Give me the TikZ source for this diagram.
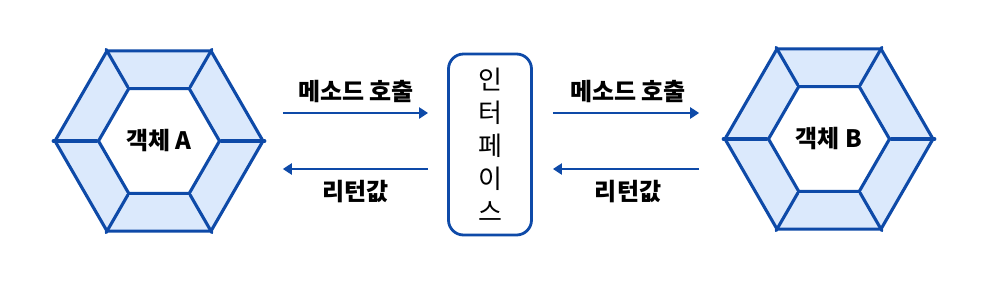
\documentclass[tikz,border=0pt]{standalone}
\usepackage{fontspec}
\setmainfont{Noto Sans CJK KR}
\usepackage{tikz}
\usetikzlibrary{arrows.meta,shapes.geometric,positioning}
\definecolor{objblue}{RGB}{14,74,168}
\definecolor{objfill}{RGB}{219,233,252}
\tikzset{
  hexouter/.style={draw=objblue, line width=3.1pt, fill=objfill, regular polygon, regular polygon sides=6, minimum size=208pt, inner sep=0pt},
  hexinner/.style={draw=objblue, line width=3.1pt, fill=white, regular polygon, regular polygon sides=6, minimum size=121pt, inner sep=0pt, font=\fontsize{24}{28}\selectfont\bfseries},
  spoke/.style={draw=objblue, line width=3.1pt, line cap=round},
  msgarrow/.style={-{Triangle[length=9pt,width=11pt]}, draw=objblue, line width=2.8pt},
  msglabel/.style={font=\fontsize{24}{28}\selectfont\bfseries, text=black}
}

\begin{document}
\begin{tikzpicture}[x=1pt, y=-1pt]
            \useasboundingbox (0,0) rectangle (983,293);

            % Object A
            \node[hexouter] (objA) at (159,141) {};
            \node[hexinner] (objAin) at (objA.center) {객체 A};
            \foreach \i in {1,...,6} \draw[spoke] (objA.corner \i) -- (objAin.corner \i);

            % Interface
            \node[draw=objblue, line width=2.8pt, rounded corners=15pt, minimum width=83pt, minimum height=181pt, align=center, font=\fontsize{26}{33}\selectfont] (iface) at (490,144.5) {인\\터\\페\\이\\스};

            % Object B
            \node[hexouter] (objB) at (829,139) {};
            \node[hexinner] (objBin) at (objB.center) {객체 B};
            \foreach \i in {1,...,6} \draw[spoke] (objB.corner \i) -- (objBin.corner \i);

            % Arrows A <-> interface
            \draw[msgarrow, shorten <=18pt, shorten >=19pt] ([yshift=28pt]objA.east) -- node[msglabel, above=6pt] {메소드 호출} ([yshift=28pt]objA.east -| iface.west);
            \draw[msgarrow, shorten <=19pt, shorten >=18pt] ([yshift=-28pt]objA.east -| iface.west) -- node[msglabel, below=6pt] {리턴값} ([yshift=-28pt]objA.east);

            % Arrows interface <-> B
            \draw[msgarrow, shorten <=20pt, shorten >=24pt] ([yshift=28pt]objA.east -| iface.east) -- node[msglabel, above=6pt] {메소드 호출} ([yshift=28pt]objA.east -| objB.west);
            \draw[msgarrow, shorten <=24pt, shorten >=20pt] ([yshift=-28pt]objA.east -| objB.west) -- node[msglabel, below=6pt] {리턴값} ([yshift=-28pt]objA.east -| iface.east);
        \end{tikzpicture}
\end{document}
